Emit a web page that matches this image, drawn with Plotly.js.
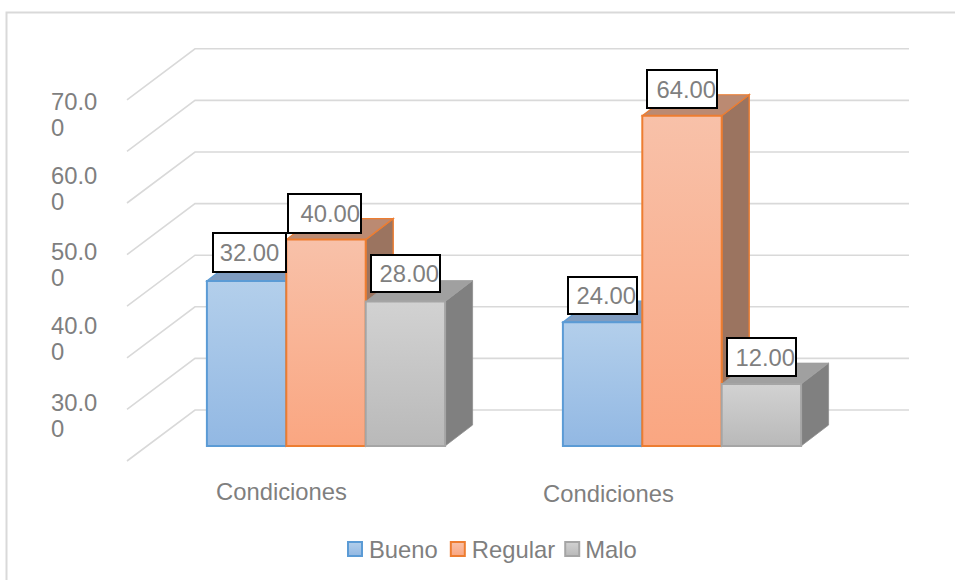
<!DOCTYPE html>
<html>
<head>
<meta charset="utf-8">
<script src="https://cdn.plot.ly/plotly-3.0.1.min.js"></script>
<style>html,body{margin:0;padding:0;background:#fff}</style>
</head>
<body>
<div id="chart" style="width:955px;height:580px"></div>
<script>
// Survey results by condition
const groupIndex = [0, 1];
const categoryLabels = ['Condiciones', 'Condiciones'];
const bueno = [32, 24];
const regular = [40, 64];
const malo = [28, 12];
const seriesNames = ['Bueno', 'Regular', 'Malo'];
const gridValues = [0, 10, 20, 30, 40, 50, 60, 70];
const axisLabels = ['70.0<br>0', '60.0<br>0', '50.0<br>0', '40.0<br>0', '30.0<br>0'];

// Pixel frame of the drawing
const W = 955, H = 580;
const baseY = 446, unitPx = 5.16, firstGroupX = 326, groupPx = 356;
const toX = px => (px - firstGroupX) / groupPx;
const toY = py => (baseY - py) / unitPx;
const xSpan = px => px / groupPx;
const ySpan = px => px / unitPx;

// Oblique projection of the box
const barPx = 79.4, depthX = xSpan(27.5), depthY = ySpan(21);
const wallFrontX = toX(127), wallBackX = toX(195), wallEndX = toX(909);
const wallFrontDrop = ySpan(15), wallBackRise = ySpan(36);

const FONT = 'Liberation Sans, Arial, sans-serif';
const TEXT = '#7f7f7f';
const FS = 23.8;

const styles = [
  {line: '#5b9bd5', mid: '#a3c2e8', top: '#7f9cc0', side: '#6f8fb5', grad: ['#b3cfeb', '#92b8e3']},
  {line: '#ed7d31', mid: '#f8b295', top: '#bb8a72', side: '#9b7460', grad: ['#f8c1a9', '#faa681']},
  {line: '#a5a5a5', mid: '#c4c4c4', top: '#a0a0a0', side: '#808080', grad: ['#d2d2d2', '#b9b9b9']}
];
const values = [bueno, regular, malo];

const poly = pts => 'M' + pts.map(p => p[0] + ',' + p[1]).join('L');

const shapes = [];
// Chart frame: only its top and left edges fall inside the page
shapes.push({type: 'path', xref: 'paper', yref: 'paper', layer: 'below',
  path: poly([[6.5 / W, 0], [6.5 / W, 1 - 12.5 / H], [1, 1 - 12.5 / H]]),
  line: {color: '#d9d9d9', width: 2}, fillcolor: 'rgba(0,0,0,0)'});
// Floor diagonals and back wall lines
gridValues.forEach(v => {
  shapes.push({type: 'path', xref: 'x', yref: 'y', layer: 'below',
    path: poly([[wallFrontX, v - wallFrontDrop], [wallBackX, v + wallBackRise], [wallEndX, v + wallBackRise]]),
    line: {color: '#d9d9d9', width: 1.6}, fillcolor: 'rgba(0,0,0,0)'});
});
// Side and top faces of each bar, back to front
const greySides = [];
groupIndex.forEach((g, gi) => {
  values.forEach((vals, s) => {
    const v = vals[gi];
    const xL = g + (s - 1.5) * xSpan(barPx), xR = xL + xSpan(barPx);
    const st = styles[s];
    if (s === 2) greySides.push(shapes.length);
    shapes.push({type: 'path', xref: 'x', yref: 'y', layer: 'below',
      path: poly([[xR, 0], [xR + depthX, depthY], [xR + depthX, v + depthY], [xR, v]]) + 'Z',
      fillcolor: st.side, line: {color: s === 2 ? '#8e8e8e' : st.line, width: s === 2 ? 0.8 : 1.4}});
    shapes.push({type: 'path', xref: 'x', yref: 'y', layer: 'below',
      path: poly([[xL, v], [xR, v], [xR + depthX, v + depthY], [xL + depthX, v + depthY]]) + 'Z',
      fillcolor: st.top, line: {color: s === 2 ? '#a0a0a0' : st.line, width: s === 2 ? 0.8 : 1.2}});
  });
});

const traces = values.map((vals, s) => ({
  type: 'bar', name: seriesNames[s], x: groupIndex, y: vals,
  marker: {color: styles[s].mid, line: {color: styles[s].line, width: 2}},
  hoverinfo: 'name+y'
}));

// Value boxes: pixel offset of each box centre from the top-centre of its bar, box size, text alignment
const labelShift = [
  [[3, 28.5], [0, 26.5]],
  [[-1.5, 26.5], [0, 27]],
  [[0, 28], [0, 27]]
];
const labelBox = [
  [[71, 37], [67, 35]],
  [[71, 37], [68, 36]],
  [[67, 35], [67, 36]]
];
const labelAlign = [['center', 'right'], ['right', 'right'], ['right', 'right']];
const annotations = [];
values.forEach((vals, s) => vals.forEach((v, gi) => {
  const xC = groupIndex[gi] + (s - 1) * xSpan(barPx);
  annotations.push({
    xref: 'x', yref: 'y', x: xC, y: v,
    xshift: labelShift[s][gi][0], yshift: labelShift[s][gi][1],
    yanchor: 'middle', xanchor: 'center', showarrow: false,
    text: v.toFixed(2), font: {family: FONT, size: FS, color: TEXT},
    bgcolor: '#ffffff', bordercolor: '#000000', borderwidth: 2, borderpad: 0,
    width: labelBox[s][gi][0], height: labelBox[s][gi][1], align: labelAlign[s][gi], valign: 'middle'
  });
}));
// Category names under the bars
[[281, 491], [608, 493]].forEach((p, i) => annotations.push({
  xref: 'x', yref: 'y', x: toX(p[0]), y: toY(p[1]), showarrow: false,
  text: categoryLabels[i], font: {family: FONT, size: FS, color: TEXT}
}));
// Value axis labels, wrapped in their narrow gutter
const axisLabelCentres = [117, 190.5, 266.5, 341, 417.5];
axisLabels.forEach((t, i) => annotations.push({
  xref: 'paper', yref: 'y', x: 49 / W, y: toY(axisLabelCentres[i]), xanchor: 'left',
  showarrow: false, align: 'left', text: t, font: {family: FONT, size: FS, color: TEXT}
}));

const layout = {
  width: W, height: H, margin: {l: 0, r: 0, t: 0, b: 0},
  paper_bgcolor: '#ffffff', plot_bgcolor: '#ffffff',
  barmode: 'group', bargap: 1 - 3 * barPx / groupPx, bargroupgap: 0,
  xaxis: {visible: false, range: [toX(0), toX(W)], fixedrange: true},
  yaxis: {visible: false, range: [toY(H), toY(0)], fixedrange: true},
  showlegend: true,
  legend: {orientation: 'h', x: 327 / W, y: 1 - 549 / H, xanchor: 'left', yanchor: 'middle',
    font: {family: FONT, size: FS, color: TEXT}, itemwidth: 30, bgcolor: 'rgba(0,0,0,0)', traceorder: 'normal'},
  shapes: shapes, annotations: annotations
};

// Horizontal nudges for the legend entries and their keys
const legendEntryShift = [2, -9, -24];
const legendKeyShift = [6, 6, 7];

Plotly.newPlot('chart', traces, layout, {displayModeBar: false}).then(gd => {
  // Vertical shading on bar fronts, legend keys and the grey side faces
  const svg = gd.querySelector('svg.main-svg');
  const NS = 'http://www.w3.org/2000/svg';
  const defs = svg.querySelector('defs') || svg.insertBefore(document.createElementNS(NS, 'defs'), svg.firstChild);
  const addShade = (id, colours) => {
    const g = document.createElementNS(NS, 'linearGradient');
    g.setAttribute('id', id);
    g.setAttribute('x1', '0'); g.setAttribute('y1', '0'); g.setAttribute('x2', '0'); g.setAttribute('y2', '1');
    colours.forEach((c, i) => {
      const stop = document.createElementNS(NS, 'stop');
      stop.setAttribute('offset', String(i));
      stop.setAttribute('stop-color', c);
      g.appendChild(stop);
    });
    defs.appendChild(g);
  };
  styles.forEach((st, s) => addShade('front-shade-' + s, st.grad));
  addShade('grey-side', ['#8f8f8f', '#797979']);
  gd.querySelectorAll('.barlayer .trace').forEach((tr, s) => {
    tr.querySelectorAll('.point path').forEach(p => { p.style.fill = 'url(#front-shade-' + s + ')'; });
  });
  greySides.forEach(i => {
    const p = gd.querySelector('.layer-below .shapelayer path[data-index="' + i + '"]');
    if (p) p.style.fill = 'url(#grey-side)';
  });
  gd.querySelectorAll('.legend .traces').forEach((tr, s) => {
    const m = /translate\(([-\d.]+),\s*([-\d.]+)\)/.exec(tr.getAttribute('transform'));
    if (m) tr.setAttribute('transform', 'translate(' + (parseFloat(m[1]) + legendEntryShift[s]) + ',' + m[2] + ')');
    const key = tr.querySelector('.legendpoints');
    if (key) key.setAttribute('transform', 'translate(' + legendKeyShift[s] + ',0)');
    tr.querySelectorAll('.legendpoints path').forEach(p => {
      p.setAttribute('d', 'M7,7H-7V-7H7Z');
      p.style.fill = 'url(#front-shade-' + s + ')';
    });
  });
  // Tighter leading for the wrapped axis labels
  gd.querySelectorAll('.annotation-text tspan.line').forEach(t => {
    if (parseFloat(t.getAttribute('dy')) > 0) t.setAttribute('dy', '1.1em');
  });
});
</script>
</body>
</html>
